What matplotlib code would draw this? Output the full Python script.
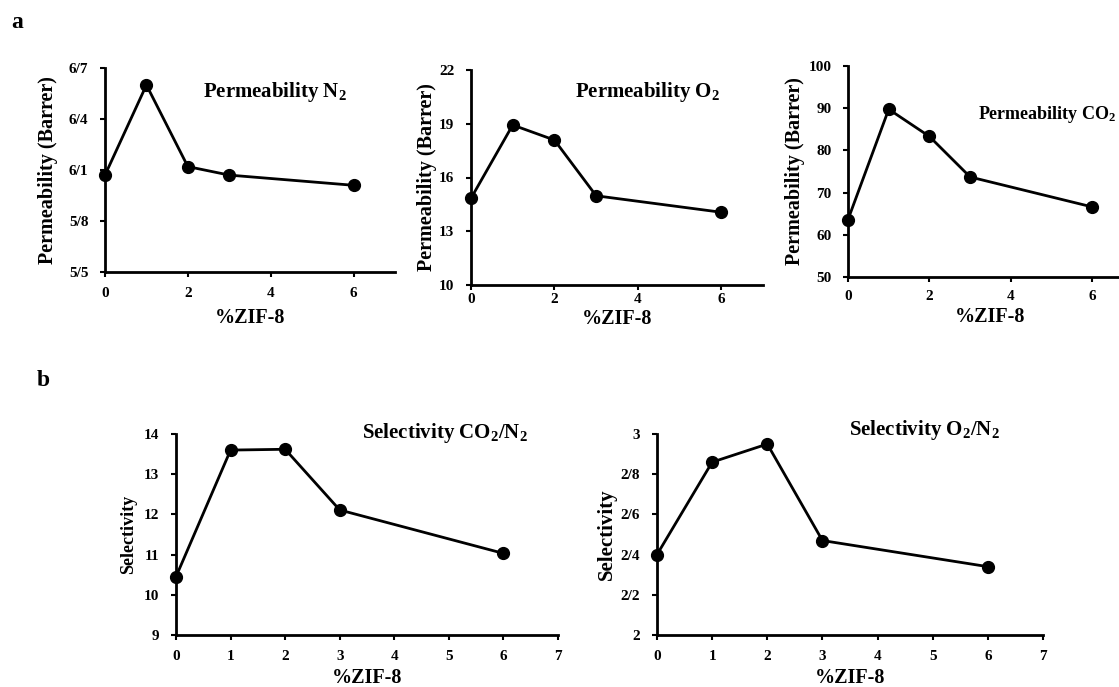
import numpy as np
import matplotlib
matplotlib.use("Agg")
import matplotlib.pyplot as plt
from matplotlib.ticker import FixedLocator, FixedFormatter

plt.rcParams['font.family'] = ['Liberation Serif', 'DejaVu Serif']
plt.rcParams['font.weight'] = 'bold'
plt.rcParams['mathtext.fontset'] = 'custom'
plt.rcParams['mathtext.rm'] = 'Liberation Serif:bold'
plt.rcParams['mathtext.bf'] = 'Liberation Serif:bold'
plt.rcParams['mathtext.default'] = 'rm'

# data (ZIF-8 loading, %)
zif = [0, 1, 2, 3, 6]
perm_n2 = [6.07, 6.60, 6.12, 6.07, 6.01]
perm_o2 = [14.84, 18.93, 18.09, 14.98, 14.06]
perm_co2 = [63.6, 89.75, 83.3, 73.7, 66.6]
sel_co2_n2 = [10.45, 13.60, 13.62, 12.11, 11.03]
sel_o2_n2 = [2.40, 2.86, 2.95, 2.47, 2.34]

# y ticks and labels (labels written with "/" as decimal sign, as in the figure)
n2_ticks = [5.5, 5.8, 6.1, 6.4, 6.7]
n2_labels = ['5/5', '5/8', '6/1', '6/4', '6/7']
o2_ticks = [10, 13, 16, 19, 22]
co2_ticks = [50, 60, 70, 80, 90, 100]
sco2_ticks = [9, 10, 11, 12, 13, 14]
so2_ticks = [2.0, 2.2, 2.4, 2.6, 2.8, 3.0]
so2_labels = ['2', '2/2', '2/4', '2/6', '2/8', '3']

W, H = 1119, 687
fig = plt.figure(figsize=(W / 100, H / 100), dpi=100)


def make_ax(left, top, right, bottom):
    return fig.add_axes([left / W, 1 - bottom / H, (right - left) / W, (bottom - top) / H])


def style(ax, x, y, yticks, ylabels, xticks, ylim, title, tpos, tsize,
          ylabel, ylx, ysize, xly, xpad=7):
    ax.plot(x, y, color='black', lw=2, marker='o', ms=8.5, clip_on=False, zorder=3)
    ax.set_xlim(0, 7)
    ax.set_ylim(*ylim)
    ax.xaxis.set_major_locator(FixedLocator(xticks))
    ax.yaxis.set_major_locator(FixedLocator(yticks))
    ax.yaxis.set_major_formatter(FixedFormatter(ylabels))
    for s in ['top', 'right']:
        ax.spines[s].set_visible(False)
    for s in ['left', 'bottom']:
        ax.spines[s].set_linewidth(2)
    ax.tick_params(direction='out', length=3.5, width=1.5, labelsize=11)
    ax.tick_params(axis='y', pad=8.5)
    ax.tick_params(axis='x', pad=xpad)
    for lab in ax.get_xticklabels() + ax.get_yticklabels():
        lab.set_fontweight('bold')
    ax.text(tpos[0], tpos[1], title, transform=ax.transAxes, ha='center', va='center',
            fontsize=tsize, fontweight='bold')
    ax.text(ylx, 0.5, ylabel, transform=ax.transAxes, rotation=90, ha='center', va='center',
            fontsize=ysize, fontweight='bold')
    ax.text(0.5, xly, '%ZIF-8', transform=ax.transAxes, ha='center', va='center',
            fontsize=14.5, fontweight='bold')


ax1 = make_ax(105, 68, 395, 272)
style(ax1, zif, perm_n2, n2_ticks, n2_labels, [0, 2, 4, 6], (5.5, 6.7),
      'Permeability N$_2$', (0.586, 0.882), 15, 'Permeability (Barrer)', -0.197, 14.5, -0.225)

ax2 = make_ax(471, 70, 763, 285)
style(ax2, zif, perm_o2, o2_ticks, [str(t) for t in o2_ticks], [0, 2, 4, 6], (10, 22),
      'Permeability O$_2$', (0.606, 0.898), 15, 'Permeability (Barrer)', -0.151, 14.5, -0.158,
      xpad=2)

ax3 = make_ax(848, 66, 1133, 277)
style(ax3, zif, perm_co2, co2_ticks, [str(t) for t in co2_ticks], [0, 2, 4, 6], (50, 100),
      'Permeability CO$_2$', (0.70, 0.768), 13, 'Permeability (Barrer)', -0.186, 14.5, -0.19,
      xpad=6)

ax4 = make_ax(176, 434, 558, 635)
style(ax4, zif, sel_co2_n2, sco2_ticks, [str(t) for t in sco2_ticks], list(range(8)), (9, 14),
      'Selectivity CO$_2$/N$_2$', (0.704, 1.005), 15, 'Selectivity', -0.123, 13, -0.214)

ax5 = make_ax(657, 434, 1043, 635)
style(ax5, zif, sel_o2_n2, so2_ticks, so2_labels, list(range(8)), (2, 3),
      'Selectivity O$_2$/N$_2$', (0.692, 1.02), 15, 'Selectivity', -0.13, 15, -0.214)

fig.text(17 / W, 1 - 22 / H, 'a', ha='center', va='center', fontsize=17, fontweight='bold')
fig.text(43 / W, 1 - 380 / H, 'b', ha='center', va='center', fontsize=17, fontweight='bold')

fig.savefig('out.png', dpi=100)
